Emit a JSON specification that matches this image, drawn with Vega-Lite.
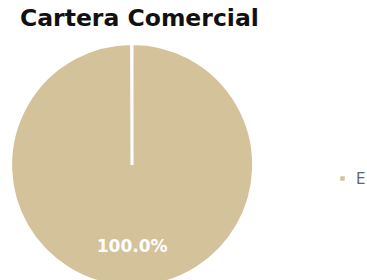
{
  "$schema": "https://vega.github.io/schema/vega-lite/v6.json",
  "autosize": "none",
  "width": 264,
  "height": 240,
  "padding": {"top": 45, "left": 0, "right": 103, "bottom": 0},
  "background": "white",
  "title": {
    "text": "Cartera Comercial",
    "anchor": "start",
    "frame": "group",
    "dx": 20,
    "offset": 7,
    "font": "DejaVu Sans",
    "fontSize": 23.5,
    "fontWeight": "bold",
    "color": "#111111"
  },
  "data": {"values": [{"category": "E", "value": 1, "share": 1}]},
  "encoding": {
    "theta": {"field": "value", "type": "quantitative", "stack": true, "scale": {"range": [0, 6.28]}},
    "color": {
      "field": "category",
      "type": "nominal",
      "scale": {"range": ["#D4C29B"]},
      "legend": {
        "title": null,
        "orient": "none",
        "legendX": 335,
        "legendY": 126,
        "padding": 0,
        "symbolType": "square",
        "symbolSize": 36,
        "labelFont": "DejaVu Sans",
        "labelFontSize": 15,
        "labelColor": "#666666",
        "labelOffset": 6
      }
    }
  },
  "layer": [
    {
      "mark": {"type": "arc", "outerRadius": 121.5, "stroke": "white", "strokeWidth": 3}
    },
    {
      "mark": {"type": "text", "radius": 82, "font": "DejaVu Sans", "fontSize": 17, "fontWeight": "bold", "color": "white"},
      "encoding": {
        "text": {"field": "share", "type": "quantitative", "format": ".1%"},
        "color": {"value": "white"}
      }
    }
  ]
}
